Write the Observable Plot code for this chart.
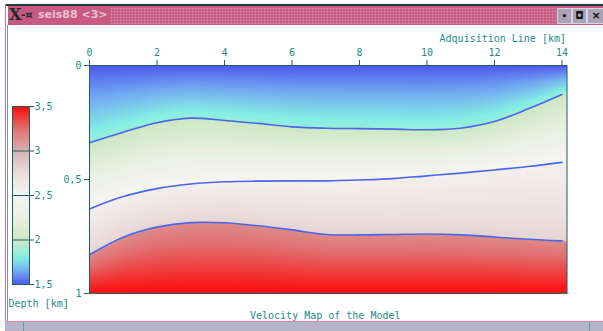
<!DOCTYPE html>
<html>
<head>
<meta charset="utf-8">
<script src="https://cdn.jsdelivr.net/npm/d3@7"></script>
<script src="https://cdn.jsdelivr.net/npm/@observablehq/plot@0.6"></script>
<style>
  html, body { margin: 0; padding: 0; background: #ffffff; }
  #win { position: relative; width: 603px; height: 331px; overflow: hidden; background: #fff; }
  .abs { position: absolute; }
  svg { position: absolute; left: 0; top: 0; }
</style>
</head>
<body>
<div id="win">
  <div class="abs" style="left:5px;top:4px;width:598px;height:2px;background:#243636"></div>
  <div class="abs" style="left:8px;top:6px;width:595px;height:19px;background:#c65a80"></div>
  <div class="abs" style="left:110px;top:7px;width:446px;height:17px;background-image:radial-gradient(#de8cab 0.8px, transparent 1.1px);background-size:3px 3px"></div>
  <div class="abs" style="left:9px;top:5px;font:bold 16px 'DejaVu Serif';color:#1b2b2b">X</div>
  <div class="abs" style="left:21px;top:8px;font:bold 11px 'DejaVu Sans';color:#1b2b2b">-¤</div>
  <div class="abs" style="left:38px;top:8px;font:bold 11px 'DejaVu Sans';color:#ecc0d0">seis88 &lt;3&gt;</div>
  <div class="abs" style="left:557px;top:8px;width:13px;height:14px;background:#a9a5b6;border:1px solid #d8d4e0;font:bold 9px 'DejaVu Sans';color:#111;text-align:center;line-height:14px">•</div>
  <div class="abs" style="left:572px;top:8px;width:13px;height:14px;background:#a9a5b6;border:1px solid #d8d4e0;font:bold 10px 'DejaVu Sans';color:#111;text-align:center;line-height:14px">◘</div>
  <div class="abs" style="left:587px;top:8px;width:16px;height:14px;background:#a9a5b6;border:1px solid #d8d4e0;font:bold 11px 'DejaVu Sans';color:#111;text-align:center;line-height:14px">×</div>
  <div class="abs" style="left:5px;top:4px;width:1px;height:327px;background:#e07090"></div>
  <div class="abs" style="left:7px;top:25px;width:1px;height:297px;background:#6a9e9e"></div>
  <div class="abs" style="left:5px;top:321px;width:598px;height:1px;background:#e58aa2"></div>
  <div class="abs" style="left:5px;top:322px;width:598px;height:9px;background:#b6b4c8"></div>
  <div class="abs" style="left:23px;top:322px;width:1px;height:9px;background:#6a9e9e"></div>
  <div class="abs" style="left:589px;top:322px;width:1px;height:9px;background:#6a9e9e"></div>
  <div id="chart"></div>
</div>
<script>
// ---- data ----
const xs = [0, 1, 2, 3, 4, 5, 6, 7, 8, 9, 10, 11, 12, 13, 14];           // km along the line
const horizon1 = [0.339, 0.293, 0.251, 0.231, 0.241, 0.254, 0.269, 0.275, 0.277, 0.279, 0.282, 0.275, 0.246, 0.190, 0.127];
const horizon2 = [0.629, 0.575, 0.540, 0.520, 0.510, 0.507, 0.506, 0.506, 0.502, 0.496, 0.484, 0.472, 0.458, 0.443, 0.425];
const horizon3 = [0.830, 0.753, 0.709, 0.689, 0.690, 0.703, 0.721, 0.741, 0.743, 0.741, 0.739, 0.743, 0.752, 0.762, 0.769];
const layerTopVel = [1.5, 2.0, 2.55, 3.15];   // km/s at top of each layer
const layerBotVel = [1.85, 2.5, 2.8, 3.5];    // km/s at bottom of each layer
const colorStops = [1.5, 1.65, 1.8, 2.0, 2.25, 2.5, 2.75, 3.0, 3.25, 3.5];
const colorRange = ["#5058ee", "#72aaf2", "#86eee4", "#cce8c4", "#eaefe2", "#f6f5f5", "#eadcdc", "#d9b2b2", "#e27070", "#ff0a0a"];
const xTicks = [0, 2, 4, 6, 8, 10, 12, 14];
const depthTicks = [0, 0.5, 1];
const velTicks = [1.5, 2, 2.5, 3, 3.5];

const horizons = [horizon1, horizon2, horizon3];
function depthAt(h, x) {
  let i = Math.floor(x);
  i = Math.max(0, Math.min(xs.length - 2, i));
  const t = (x - xs[i]) / (xs[i + 1] - xs[i]);
  return h[i] + t * (h[i + 1] - h[i]);
}
function velocity(x, d) {
  const b = [0, depthAt(horizon1, x), depthAt(horizon2, x), depthAt(horizon3, x), 1];
  let k = 0;
  while (k < 3 && d > b[k + 1]) k++;
  const t = Math.max(0, Math.min(1, (d - b[k]) / (b[k + 1] - b[k])));
  return layerTopVel[k] + t * (layerBotVel[k] - layerTopVel[k]);
}
const lineRows = horizons.flatMap((h, j) => xs.map((x, i) => ({x, d: h[i], id: j})));
const fmt = d => String(d).replace(".", ",");

const teal = "#1f8a86";
const dark = "#1d5f5e";
const colorScale = {type: "linear", domain: colorStops, range: colorRange, interpolate: "rgb"};

const main = Plot.plot({
  width: 603, height: 331,
  marginLeft: 89, marginRight: 36.5, marginTop: 65, marginBottom: 38,
  style: {fontFamily: "DejaVu Sans Mono", fontSize: "10px", color: teal, background: "transparent", overflow: "visible"},
  x: {domain: [0, 14.15], axis: null},
  y: {domain: [0, 1], reverse: true, axis: null},
  color: colorScale,
  marks: [
    Plot.raster({x1: 0, x2: 14.15, y1: 0, y2: 1, fill: (x, y) => velocity(x, y)}),
    Plot.line(lineRows, {x: "x", y: "d", z: "id", stroke: "#4a66e8", strokeWidth: 1.6, curve: "catmull-rom"}),
    Plot.frame({stroke: dark}),
    Plot.axisX(xTicks, {anchor: "top", tickSize: 6, tickPadding: 4, label: null, stroke: dark, tickFormat: d => String(d)}),
    Plot.axisY(depthTicks, {anchor: "left", tickSize: 5, tickPadding: 3, label: null, stroke: dark, tickFormat: fmt}),
    Plot.text(["Adquisition Line [km]"], {frameAnchor: "top-right", textAnchor: "end", lineAnchor: "middle", dx: -1, dy: -27, fill: teal}),
    Plot.text(["Depth [km]"], {frameAnchor: "bottom-left", textAnchor: "start", lineAnchor: "middle", dx: -81, dy: 10, fill: teal}),
    Plot.text(["Velocity Map of the Model"], {frameAnchor: "bottom", textAnchor: "middle", lineAnchor: "middle", dx: -3, dy: 22, fill: teal})
  ]
});

const legend = Plot.plot({
  width: 70, height: 300,
  marginLeft: 12, marginRight: 41, marginTop: 106, marginBottom: 16,
  style: {fontFamily: "DejaVu Sans Mono", fontSize: "10px", color: teal, background: "transparent", overflow: "visible"},
  x: {domain: [0, 1], axis: null},
  y: {domain: [1.5, 3.5], axis: null},
  color: colorScale,
  marks: [
    Plot.raster({x1: 0, x2: 1, y1: 1.5, y2: 3.5, fill: (x, y) => y}),
    Plot.ruleY([2, 2.5, 3], {stroke: dark, strokeWidth: 1}),
    Plot.frame({stroke: dark}),
    Plot.axisY(velTicks, {anchor: "right", tickSize: 4, tickPadding: 1, label: null, stroke: dark, tickFormat: fmt})
  ]
});

const c = document.getElementById("chart");
c.appendChild(legend);
c.appendChild(main);
</script>
</body>
</html>
